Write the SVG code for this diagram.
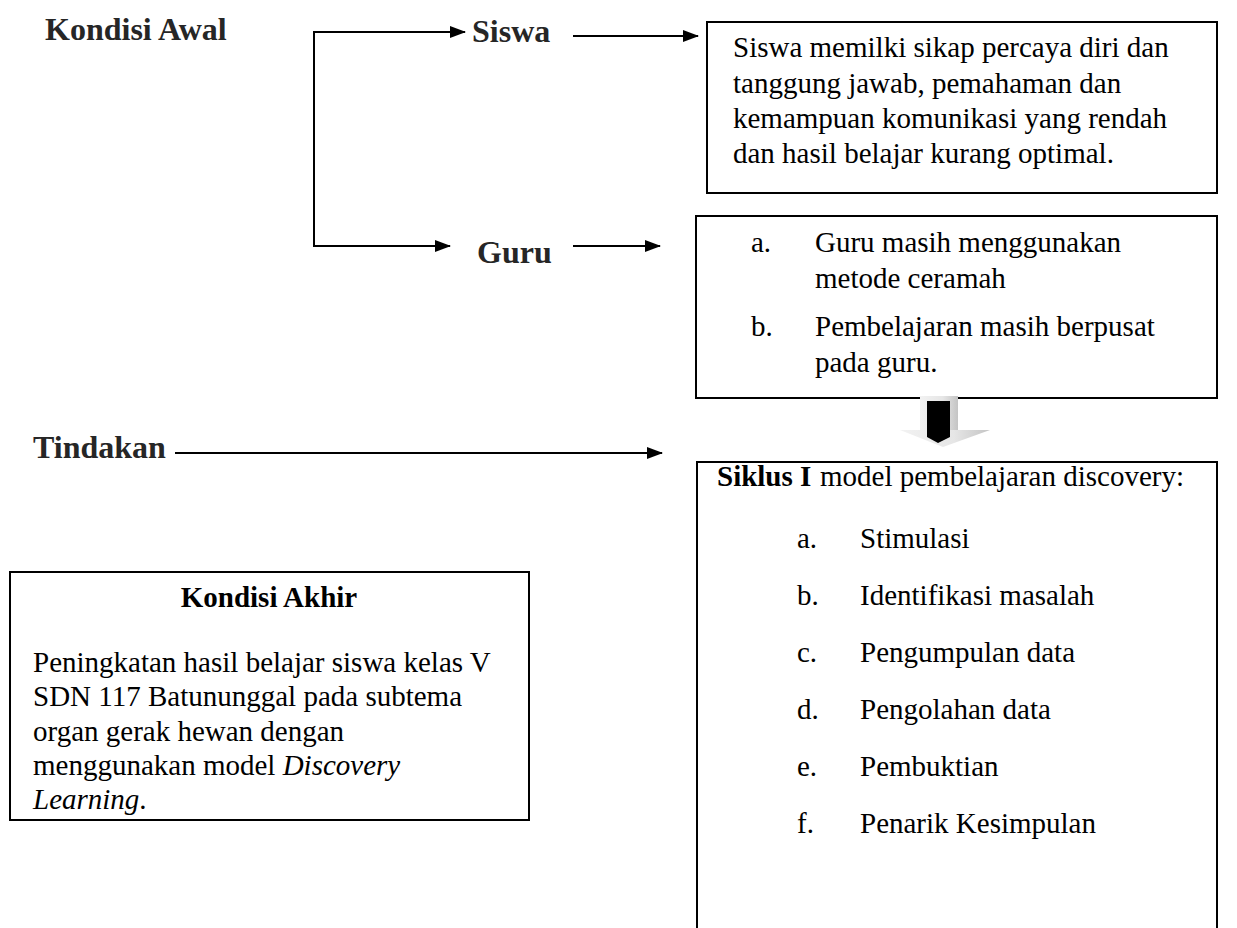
<svg xmlns="http://www.w3.org/2000/svg" width="1237" height="928" viewBox="0 0 1237 928">
<style>
.h{font-family:"Liberation Serif","Times New Roman",serif;font-weight:bold;font-size:32px;fill:#262626}
.t{font-family:"Liberation Serif","Times New Roman",serif;font-size:29px;fill:#000}
.b{font-weight:bold}
.box{fill:#fff;stroke:#000;stroke-width:2}
.ln{fill:none;stroke:#000;stroke-width:2}
</style>
<defs>
<marker id="ah" markerWidth="16" markerHeight="12" refX="15" refY="6" orient="auto" markerUnits="userSpaceOnUse">
<path d="M0,0 L16,6 L0,12 Z" fill="#000"/>
</marker>
<linearGradient id="gr" x1="0" y1="0" x2="1" y2="0">
<stop offset="0" stop-color="#f2f2f2"/>
<stop offset="0.6" stop-color="#e6e6e6"/>
<stop offset="1" stop-color="#c4c4c4"/>
</linearGradient>
</defs>
<rect width="1237" height="928" fill="#fff"/>

<g id="kondisi-awal"><text class="h" x="45" y="40">Kondisi Awal</text></g>
<g id="siswa-label"><text class="h" x="472" y="42">Siswa</text></g>
<g id="guru-label"><text class="h" x="477" y="263">Guru</text></g>
<g id="tindakan"><text class="h" x="33" y="458">Tindakan</text></g>

<g id="siswa-box">
<rect class="box" x="707" y="22" width="510" height="171"/>
<text class="t" x="733" y="57">Siswa memilki sikap percaya diri dan</text>
<text class="t" x="733" y="93">tanggung jawab, pemahaman dan</text>
<text class="t" x="733" y="128">kemampuan komunikasi yang rendah</text>
<text class="t" x="733" y="163">dan hasil belajar kurang optimal.</text>
</g>

<g id="guru-box">
<rect class="box" x="696" y="216" width="521" height="182"/>
<text class="t" x="751" y="252">a.</text>
<text class="t" x="815" y="252">Guru masih menggunakan</text>
<text class="t" x="815" y="288">metode ceramah</text>
<text class="t" x="751" y="336">b.</text>
<text class="t" x="815" y="336">Pembelajaran masih berpusat</text>
<text class="t" x="815" y="372">pada guru.</text>
</g>

<g id="siklus-box">
<rect class="box" x="697" y="462" width="520" height="480"/>
<text class="t" x="717" y="486"><tspan class="b">Siklus I</tspan><tspan x="820">model pembelajaran discovery:</tspan></text>
<text class="t" x="797" y="548">a.</text><text class="t" x="860" y="548">Stimulasi</text>
<text class="t" x="797" y="605">b.</text><text class="t" x="860" y="605">Identifikasi masalah</text>
<text class="t" x="797" y="662">c.</text><text class="t" x="860" y="662">Pengumpulan data</text>
<text class="t" x="797" y="719">d.</text><text class="t" x="860" y="719">Pengolahan data</text>
<text class="t" x="797" y="776">e.</text><text class="t" x="860" y="776">Pembuktian</text>
<text class="t" x="797" y="833">f.</text><text class="t" x="860" y="833">Penarik Kesimpulan</text>
</g>

<g id="kondisi-akhir">
<rect class="box" x="10" y="572" width="519" height="248"/>
<text class="t b" x="269" y="607" text-anchor="middle">Kondisi Akhir</text>
<text class="t" x="33" y="672">Peningkatan hasil belajar siswa kelas V</text>
<text class="t" x="33" y="706">SDN 117 Batununggal pada subtema</text>
<text class="t" x="33" y="741">organ gerak hewan dengan</text>
<text class="t" x="33" y="775">menggunakan model <tspan font-style="italic">Discovery</tspan></text>
<text class="t" x="33" y="809"><tspan font-style="italic">Learning</tspan>.</text>
</g>

<g id="block-arrow">
<rect x="920" y="396" width="38" height="35" fill="url(#gr)"/>
<polygon points="900,430 990,430 943,447" fill="url(#gr)"/>
<polygon points="927,401 950,401 950,437 938,443 927,437" fill="#000"/>
</g>

<g id="connectors">
<polyline class="ln" points="465,32 314,32 314,246 450,246" marker-end="url(#ah)"/>
<line class="ln" x1="314" y1="32" x2="465" y2="32" marker-end="url(#ah)"/>
<line class="ln" x1="573" y1="36" x2="698" y2="36" marker-end="url(#ah)"/>
<line class="ln" x1="573" y1="246" x2="660" y2="246" marker-end="url(#ah)"/>
<line class="ln" x1="175" y1="453" x2="662" y2="453" marker-end="url(#ah)"/>
</g>
</svg>
